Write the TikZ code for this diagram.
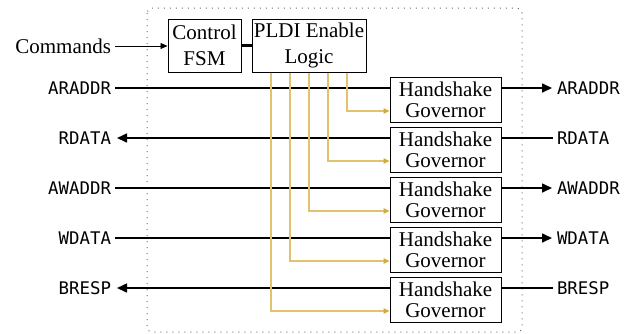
\documentclass[tikz,border=0pt]{standalone}
\usepackage{fontspec}
\setmainfont{Liberation Serif}
\newfontfamily\monof{DejaVu Sans Mono}
\usetikzlibrary{arrows.meta}
\definecolor{enablecol}{RGB}{226,194,110}
\definecolor{enabletip}{RGB}{214,170,64}
\definecolor{dotgray}{RGB}{110,110,110}
\begin{document}
\begin{tikzpicture}[x=1pt,y=-1pt,
  serifbox/.style={draw,line width=1pt,inner sep=0pt,align=center,font=\fontsize{21}{25.5}\selectfont},
  hsbox/.style={draw,line width=1pt,inner sep=0pt,align=center,minimum width=111pt,minimum height=45pt,font=\fontsize{21}{21}\selectfont},
  siglab/.style={inner sep=0pt,outer sep=0pt,font=\monof\fontsize{17.4}{18}\selectfont},
  sig/.style={line width=1.6pt},
  sigtip/.style={-{Triangle[length=10pt,width=9pt]}},
  ctlline/.style={color=enablecol,line width=1.1pt,-{Triangle[length=6pt,width=5.5pt,color=enabletip]}},
]
\useasboundingbox (0,0) rectangle (631,333);
\draw[dotgray,line width=1pt,dash pattern=on 1pt off 5pt,rounded corners=5pt] (147,8) rectangle (522,332);

\node[serifbox,minimum width=73pt,minimum height=53pt] (ctrl) at (204.5,45.5) {Control\\FSM};
\node[serifbox,minimum width=114pt,minimum height=53pt] (pldi) at (309,45.5) {PLDI Enable\\Logic};
\node[inner sep=0pt,outer sep=0pt,anchor=east,font=\fontsize{21}{21}\selectfont] (cmd) at (111,46) {Commands};
\draw[line width=0.8pt,shorten <=4pt,-{Triangle[length=7pt,width=6pt]}] (cmd.east) -- (ctrl.west |- cmd.east);
\draw[line width=2.6pt] (ctrl.east) -- (pldi.west);

\foreach \k/\l/\r in {1/ARADDR/ARADDR,2/RDATA/RDATA,3/AWADDR/AWADDR,4/WDATA/WDATA,5/BRESP/BRESP}{
  \node[hsbox] (hs\k) at (445.5,{99.5+50*(\k-1)}) {Handshake\\Governor};
  \node[siglab,anchor=east] (ll\k) at (111,{88+50*(\k-1)}) {\l};
  \node[siglab,anchor=west] (rl\k) at (557,{88+50*(\k-1)}) {\r};
}
% inputs on the left, outputs on the right
\foreach \k in {1,3,4}{
  \draw[sig,shorten <=4pt] (ll\k.east) -- (hs\k.west |- ll\k.east);
  \draw[sig,sigtip,shorten >=5pt] (hs\k.east |- rl\k.west) -- (rl\k.west);
}
\foreach \k in {2,5}{
  \draw[sig,sigtip,shorten >=6pt] (hs\k.west |- ll\k.east) -- (ll\k.east);
  \draw[sig,shorten >=4pt] (hs\k.east |- rl\k.west) -- (rl\k.west);
}
% enable lines
\draw[ctlline] ([xshift=38pt]pldi.south) |- ([yshift=-11.5pt]hs1.west);
\draw[ctlline] ([xshift=19pt]pldi.south) |- ([yshift=-11.5pt]hs2.west);
\draw[ctlline] ([xshift=0pt]pldi.south) |- ([yshift=-11.5pt]hs3.west);
\draw[ctlline] ([xshift=-19pt]pldi.south) |- ([yshift=-11.5pt]hs4.west);
\draw[ctlline] ([xshift=-38pt]pldi.south) |- ([yshift=-11.5pt]hs5.west);
\end{tikzpicture}
\end{document}
